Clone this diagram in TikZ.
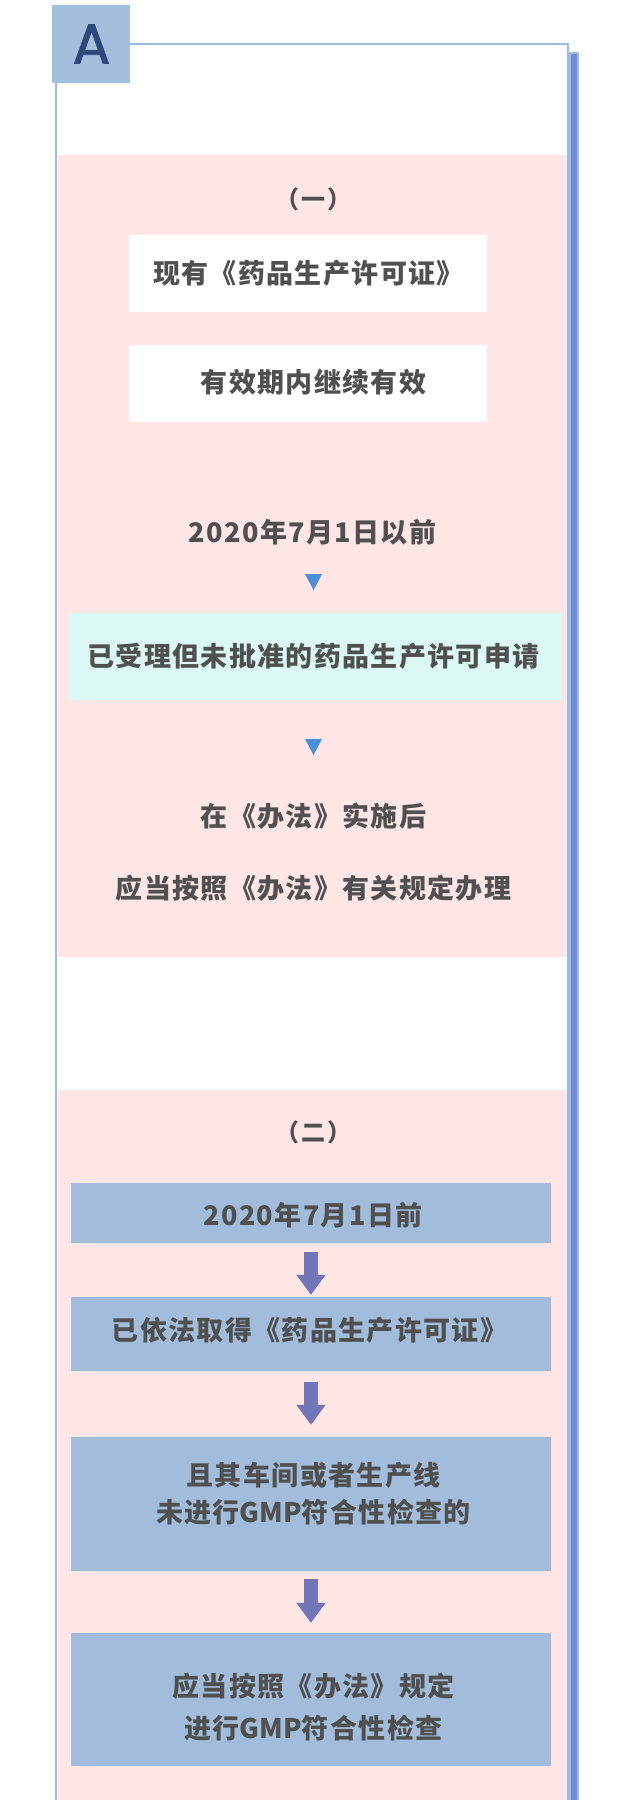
\documentclass[tikz,border=0pt]{standalone}
\usepackage{fontspec}
\setmainfont{Noto Sans CJK SC}
\newfontfamily\afont[FakeBold=1.6]{Poppins}
\usetikzlibrary{arrows.meta}
\definecolor{frameblue}{HTML}{9DBBE0}
\definecolor{shadowblue}{HTML}{6E8ECF}
\definecolor{aboxblue}{HTML}{A3BFDE}
\definecolor{aletter}{HTML}{2E4A7D}
\definecolor{pinkbg}{HTML}{FDE6E5}
\definecolor{tealbg}{HTML}{DCF8F4}
\definecolor{boxblue}{HTML}{A2BDDC}
\definecolor{arrowpurple}{HTML}{7276B8}
\definecolor{tripblue}{HTML}{4A8FD8}
\definecolor{txtgray}{HTML}{505050}
\newcommand{\tight}[1]{{\addfontfeature{LetterSpace=0}#1}}
\begin{document}
\begin{tikzpicture}[x=1pt,y=-1pt,
  txtnode/.style={text=txtgray, inner sep=0pt, align=center,
    font=\bfseries\fontsize{27}{30}\selectfont\addfontfeature{LetterSpace=5}},
  headnode/.style={text=txtgray, inner sep=0pt,
    font=\bfseries\fontsize{24}{26}\selectfont\addfontfeature{LetterSpace=9}},
  whitebox/.style={fill=white, draw=none, inner sep=0pt, minimum width=358pt, minimum height=77pt},
  bluebox/.style={fill=boxblue, draw=none, inner sep=0pt, minimum width=480pt},
  bigarrow/.style={draw=arrowpurple, line width=14pt, -{Triangle[length=20pt,width=28pt]}},
  marker/.style={fill=tripblue}
]
\useasboundingbox (0,0) rectangle (636,1800);
\fill[white] (0,0) rectangle (636,1800);
% shadow and panel
\filldraw[fill=shadowblue, draw=frameblue, line width=2pt] (570,53) rectangle (578,1815);
\fill[pinkbg] (58,155) rectangle (567,957);
\fill[pinkbg] (58,1090) rectangle (567,1815);
\draw[frameblue, line width=2pt] (56,1815) -- (56,44) -- (568,44) -- (568,1815);
% A tab
\node[fill=aboxblue, inner sep=0pt, minimum width=78pt, minimum height=78pt] (atab) at (91,44) {};
\node[text=aletter, inner sep=0pt, font=\afont\fontsize{56}{56}\selectfont] (aletter) at (91.5,44) {A};

% part one
\node[headnode] (h1) at (313.5,199) {（一）};
\node[whitebox] (w1) at (308,273.5) {};
\node[txtnode] (w1t) at (308.5,273) {现有《药品生产许可证》};
\node[whitebox] (w2) at (308,383.5) {};
\node[txtnode] (w2t) at (313.5,382) {有效期内继续有效};
\node[txtnode] (d1) at (312.5,532) {2020年7月1日以前};
\fill[marker] (305,574) -- (322,574) -- (313.5,590) -- cycle;
\node[fill=tealbg, inner sep=0pt, minimum width=493pt, minimum height=87pt] (teal) at (315.5,656.5) {};
\node[txtnode] (tealt) at (313.5,656) {已受理但未批准的药品生产许可申请};
\fill[marker] (305,739) -- (322,739) -- (313.5,755) -- cycle;
\node[txtnode] (r1) at (313.5,816) {在《办法》实施后};
\node[txtnode] (r2) at (313.5,888) {应当按照《办法》有关规定办理};

% part two
\node[headnode] (h2) at (313.5,1132) {（二）};
\node[bluebox, minimum height=60pt] (b1) at (311,1213) {};
\node[txtnode] (b1t) at (313,1215) {2020年7月1日前};
\node[bluebox, minimum height=74pt] (b2) at (311,1334) {};
\node[txtnode] (b2t) at (309.5,1330) {已依法取得《药品生产许可证》};
\node[bluebox, minimum height=134pt] (b3) at (311,1504) {};
\node[txtnode, font=\bfseries\fontsize{27}{37}\selectfont\addfontfeature{LetterSpace=5}] (b3t) at (313.5,1493.5) {且其车间或者生产线\\未进行\tight{GMP}符合性检查的};
\node[bluebox, minimum height=133pt] (b4) at (311,1699.5) {};
\node[txtnode, font=\bfseries\fontsize{27}{42}\selectfont\addfontfeature{LetterSpace=5}] (b4t) at (313.5,1707) {应当按照《办法》规定\\进行\tight{GMP}符合性检查};

\draw[bigarrow, shorten <=9pt, shorten >=2pt] (b1.south) -- (b2.north);
\draw[bigarrow, shorten <=11pt, shorten >=12pt] (b2.south) -- (b3.north);
\draw[bigarrow, shorten <=8pt, shorten >=10pt] (b3.south) -- (b4.north);
\end{tikzpicture}
\end{document}
